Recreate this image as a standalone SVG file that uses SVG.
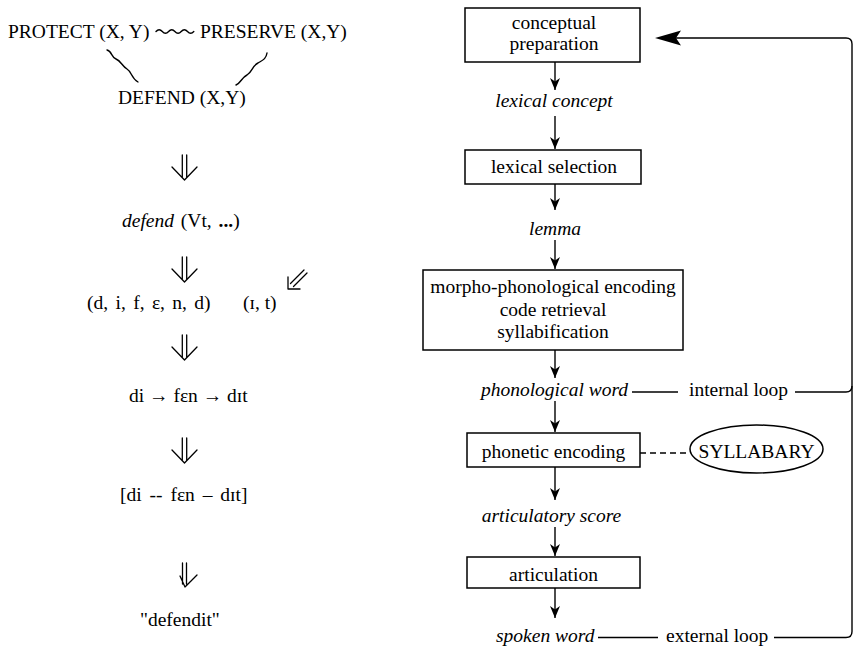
<svg xmlns="http://www.w3.org/2000/svg" width="854" height="648" viewBox="0 0 854 648">
  <style>
    text { font-family: 'Liberation Serif', 'Tinos', 'Times New Roman', 'DejaVu Serif', serif; font-size: 19.5px; fill: #000; }
    .it { font-style: italic; }
    .c { text-anchor: middle; }
    .box { fill: #fff; stroke: #000; stroke-width: 1.5; }
    .ln { fill: none; stroke: #000; stroke-width: 1.4; }
    .wave { fill: none; stroke: #000; stroke-width: 1.4; stroke-linecap: round; }
    .dbl { fill: none; stroke: #000; stroke-width: 1.3; stroke-linecap: round; stroke-linejoin: round; }
    .dash { fill: none; stroke: #000; stroke-width: 1.4; stroke-dasharray: 6 4; }
  </style>
  <defs>
    <marker id="head" viewBox="0 0 12 10" refX="12" refY="5" markerWidth="12" markerHeight="10" markerUnits="userSpaceOnUse" orient="auto">
      <path d="M0,0 L12,5 L0,10 L3.5,5 Z" fill="#000"/>
    </marker>
    <!-- open double-shafted down arrow, tip at origin -->
    <g id="dblArrow">
      <path class="dbl" d="M-2.2,-25 V-2.5 M2.2,-25 V-2.5 M-12.5,-13 L0,0 L12.5,-13"/>
    </g>
  </defs>

  <!-- left column: word derivation -->
  <g id="concepts">
    <text x="8" y="37.5">PROTECT (X, Y)</text>
    <text x="200" y="37.5">PRESERVE (X,Y)</text>
    <text x="118" y="103.5">DEFEND (X,Y)</text>
    <path class="wave" d="M156,31.5 q3.15,-3.5 6.3,0 t6.3,0 t6.3,0 t6.3,0 t6.3,0 t6.3,0"/>
    <path class="wave" d="M107,50 C112,51 111,57 116,59 C121,61 122,66 127,69 C132,72 131,78 138,82"/>
    <path class="wave" d="M267,53 C266,59 263,60 258,63 C252,66 253,71 247,75 C241,78 241,83 236,85"/>
  </g>
  <g id="lemma-left">
    <text x="122" y="226.5" word-spacing="2"><tspan class="it">defend</tspan> (Vt, <tspan font-weight="bold">...</tspan>)</text>
  </g>
  <g id="segments">
    <text x="87" y="308.5" word-spacing="2.5">(d, i, f, ɛ, n, d)</text>
    <text x="243" y="308.5">(ɪ, t)</text>
    <path class="dbl" d="M288,277 L288,289 L300,289 M290.5,283.5 L304,270 M293.5,286.5 L307,273"/>
  </g>
  <g id="syllables">
    <text x="129" y="402">di → fɛn → dɪt</text>
  </g>
  <g id="phonetic">
    <text x="120" y="501" word-spacing="3">[di -- fɛn – dɪt]</text>
  </g>
  <g id="spoken">
    <text x="140" y="626">"defendit"</text>
  </g>
  <g id="derivation-arrows">
    <use href="#dblArrow" x="184.5" y="180"/>
    <use href="#dblArrow" x="184.5" y="282"/>
    <use href="#dblArrow" x="184.5" y="360"/>
    <use href="#dblArrow" x="184.5" y="463"/>
    <path class="dbl" d="M182.5,563 V584 M186.5,563 V584 M180,576 L185,587 L197,575"/>
  </g>

  <!-- right column: production model -->
  <g id="conceptual-preparation">
    <rect class="box" x="465" y="8" width="175" height="54"/>
    <text class="c" x="554" y="28.5">conceptual</text>
    <text class="c" x="554" y="49.5">preparation</text>
  </g>
  <g id="lexical-concept">
    <text class="c it" x="554" y="107">lexical concept</text>
  </g>
  <g id="lexical-selection">
    <rect class="box" x="465" y="150" width="176" height="34"/>
    <text class="c" x="554" y="173">lexical selection</text>
  </g>
  <g id="lemma">
    <text class="c it" x="555" y="235">lemma</text>
  </g>
  <g id="morpho-phonological-encoding">
    <rect class="box" x="423" y="270" width="260" height="80"/>
    <text class="c" x="553" y="293">morpho-phonological encoding</text>
    <text class="c" x="553" y="315.5">code retrieval</text>
    <text class="c" x="553" y="338">syllabification</text>
  </g>
  <g id="phonological-word">
    <text class="c it" x="554.5" y="396">phonological word</text>
    <text x="689" y="396">internal loop</text>
  </g>
  <g id="phonetic-encoding">
    <rect class="box" x="467" y="433" width="173" height="34"/>
    <text class="c" x="553.5" y="457.5">phonetic encoding</text>
  </g>
  <g id="syllabary">
    <ellipse class="box" cx="756.5" cy="449" rx="66.5" ry="24"/>
    <text class="c" x="756.5" y="458">SYLLABARY</text>
  </g>
  <g id="articulatory-score">
    <text class="c it" x="551.5" y="522">articulatory score</text>
  </g>
  <g id="articulation">
    <rect class="box" x="467" y="557" width="173" height="31"/>
    <text class="c" x="553.5" y="581">articulation</text>
  </g>
  <g id="spoken-word">
    <text class="it" x="496" y="642">spoken word</text>
    <text x="666" y="642">external loop</text>
  </g>

  <g id="connectors">
    <line class="ln" x1="555" y1="62" x2="555" y2="90" marker-end="url(#head)"/>
    <line class="ln" x1="555" y1="116" x2="555" y2="149" marker-end="url(#head)"/>
    <line class="ln" x1="555" y1="184" x2="555" y2="210" marker-end="url(#head)"/>
    <line class="ln" x1="555" y1="240" x2="555" y2="269" marker-end="url(#head)"/>
    <line class="ln" x1="555" y1="350" x2="555" y2="378" marker-end="url(#head)"/>
    <line class="ln" x1="555" y1="401" x2="555" y2="432" marker-end="url(#head)"/>
    <line class="ln" x1="555" y1="467" x2="555" y2="500" marker-end="url(#head)"/>
    <line class="ln" x1="555" y1="527" x2="555" y2="556" marker-end="url(#head)"/>
    <line class="ln" x1="555" y1="588" x2="555" y2="618" marker-end="url(#head)"/>
    <line class="dash" x1="640" y1="453" x2="690" y2="453"/>
    <!-- feedback loops -->
    <line class="ln" x1="632" y1="392" x2="678" y2="392"/>
    <path class="ln" d="M795,392 H846 Q852,392 852,386"/>
    <line class="ln" x1="598" y1="637.5" x2="658" y2="637.5"/>
    <path class="ln" d="M774,637.5 H846 Q852,637.5 852,631.5 V44 Q852,38 846,38 H676"/>
    <path d="M655,38 L681,30.5 L676,38 L681,45.5 Z" fill="#000"/>
  </g>
</svg>
